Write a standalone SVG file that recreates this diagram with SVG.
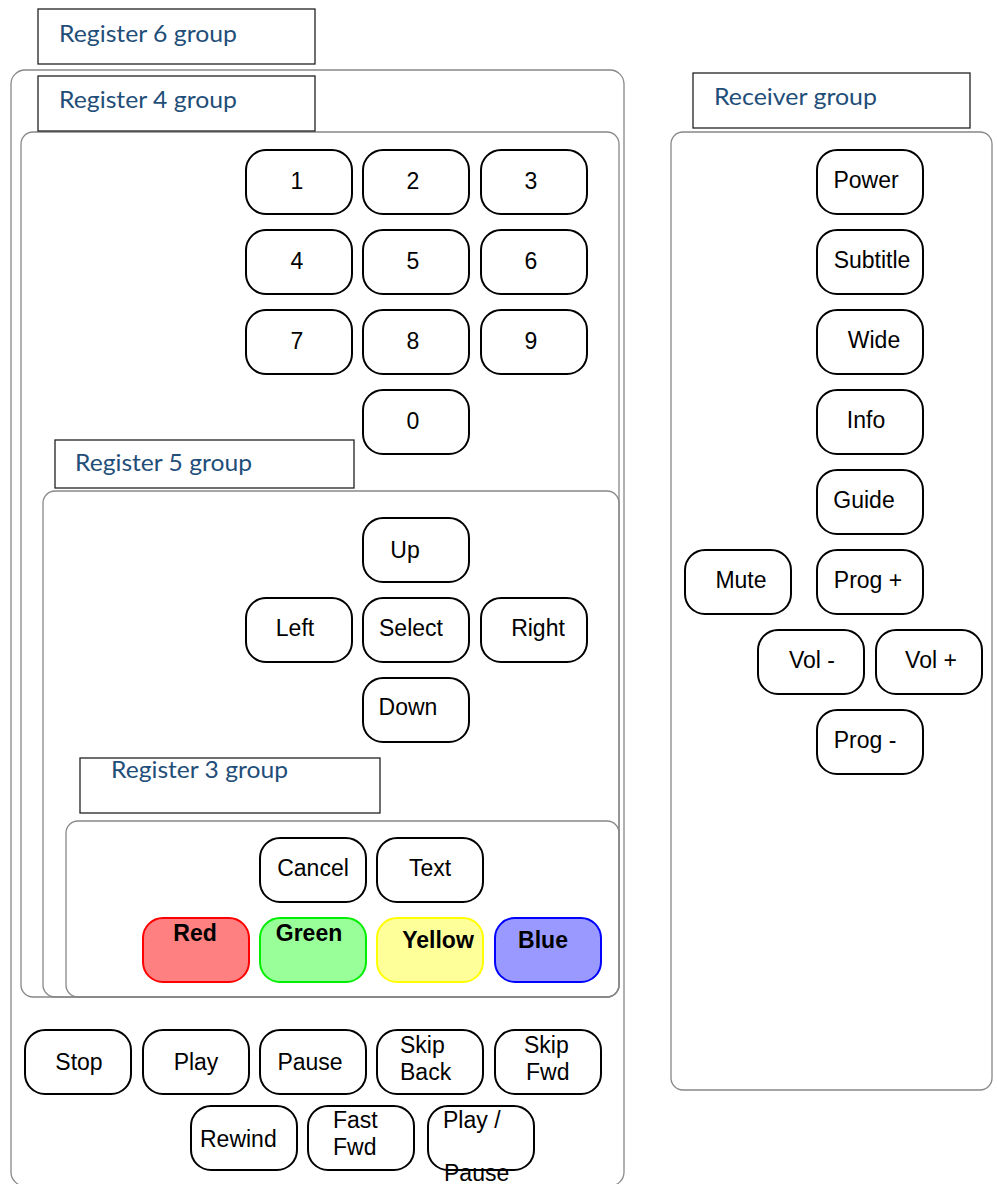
<svg xmlns="http://www.w3.org/2000/svg" width="997" height="1184" viewBox="0 0 997 1184">
<style>
.cont{fill:none;stroke:#888888;stroke-width:1.3}
.lbl{fill:#ffffff;stroke:#222222;stroke-width:1.3}
.lt{font-family:Lato,"Open Sans",sans-serif;font-size:24px;fill:#1f4e79}
.btn{fill:#ffffff;stroke:#000000;stroke-width:2}
.bt{font-family:"Liberation Sans",Arial,sans-serif;font-size:23px;fill:#000000}
.m{text-anchor:middle}
.bold{font-weight:bold}
</style>
<rect width="997" height="1184" fill="#ffffff"/>
<g id="connectors"></g>

<g id="register6-group">
<rect class="cont" x="11" y="70" width="613" height="1116" rx="14"/>
<rect class="lbl" x="38" y="9" width="277" height="55"/>
<text class="lt" x="59" y="42" textLength="178" lengthAdjust="spacingAndGlyphs">Register 6 group</text>
</g>

<g id="register4-group">
<rect class="cont" x="21" y="132" width="598" height="865" rx="12"/>
<rect class="lbl" x="38" y="76" width="277" height="55"/>
<text class="lt" x="59" y="108" textLength="178" lengthAdjust="spacingAndGlyphs">Register 4 group</text>
</g>

<g id="register5-group">
<rect class="cont" x="43" y="491" width="576" height="506" rx="12"/>
<rect class="lbl" x="55" y="440" width="299" height="48"/>
<text class="lt" x="75" y="471" textLength="177" lengthAdjust="spacingAndGlyphs">Register 5 group</text>
</g>

<g id="register3-group">
<rect class="cont" x="66" y="821" width="553" height="176" rx="12"/>
<rect class="lbl" x="80" y="758" width="300" height="55"/>
<text class="lt" x="111" y="778" textLength="177" lengthAdjust="spacingAndGlyphs">Register 3 group</text>
</g>

<g id="receiver-group">
<rect class="cont" x="671" y="132" width="321" height="958" rx="12"/>
<rect class="lbl" x="693" y="73" width="277" height="55"/>
<text class="lt" x="714" y="105" textLength="163" lengthAdjust="spacingAndGlyphs">Receiver group</text>
</g>

<!-- digits -->
<g id="btn-1"><rect class="btn" x="246" y="150" width="106" height="64" rx="20"/><text class="bt m" x="297" y="189">1</text></g>
<g id="btn-2"><rect class="btn" x="363" y="150" width="106" height="64" rx="20"/><text class="bt m" x="413" y="189">2</text></g>
<g id="btn-3"><rect class="btn" x="481" y="150" width="106" height="64" rx="20"/><text class="bt m" x="531" y="189">3</text></g>
<g id="btn-4"><rect class="btn" x="246" y="230" width="106" height="64" rx="20"/><text class="bt m" x="297" y="269">4</text></g>
<g id="btn-5"><rect class="btn" x="363" y="230" width="106" height="64" rx="20"/><text class="bt m" x="413" y="269">5</text></g>
<g id="btn-6"><rect class="btn" x="481" y="230" width="106" height="64" rx="20"/><text class="bt m" x="531" y="269">6</text></g>
<g id="btn-7"><rect class="btn" x="246" y="310" width="106" height="64" rx="20"/><text class="bt m" x="297" y="349">7</text></g>
<g id="btn-8"><rect class="btn" x="363" y="310" width="106" height="64" rx="20"/><text class="bt m" x="413" y="349">8</text></g>
<g id="btn-9"><rect class="btn" x="481" y="310" width="106" height="64" rx="20"/><text class="bt m" x="531" y="349">9</text></g>
<g id="btn-0"><rect class="btn" x="363" y="390" width="106" height="64" rx="20"/><text class="bt m" x="413" y="429">0</text></g>

<!-- navigation -->
<g id="btn-up"><rect class="btn" x="363" y="518" width="106" height="64" rx="20"/><text class="bt m" x="405" y="558">Up</text></g>
<g id="btn-left"><rect class="btn" x="246" y="598" width="106" height="64" rx="20"/><text class="bt m" x="295" y="636">Left</text></g>
<g id="btn-select"><rect class="btn" x="363" y="598" width="106" height="64" rx="20"/><text class="bt m" x="411" y="636">Select</text></g>
<g id="btn-right"><rect class="btn" x="481" y="598" width="106" height="64" rx="20"/><text class="bt m" x="538" y="636">Right</text></g>
<g id="btn-down"><rect class="btn" x="363" y="678" width="106" height="64" rx="20"/><text class="bt m" x="408" y="715">Down</text></g>

<!-- register 3 -->
<g id="btn-cancel"><rect class="btn" x="260" y="838" width="106" height="64" rx="20"/><text class="bt m" x="313" y="876">Cancel</text></g>
<g id="btn-text"><rect class="btn" x="377" y="838" width="106" height="64" rx="20"/><text class="bt m" x="430" y="876">Text</text></g>
<g id="btn-red"><rect x="143" y="918" width="106" height="64" rx="20" fill="#ff8080" stroke="#ff0000" stroke-width="2"/><text class="bt m bold" x="195" y="941">Red</text></g>
<g id="btn-green"><rect x="260" y="918" width="106" height="64" rx="20" fill="#99ff99" stroke="#00ee00" stroke-width="2"/><text class="bt m bold" x="309" y="941">Green</text></g>
<g id="btn-yellow"><rect x="377" y="918" width="106" height="64" rx="20" fill="#ffff99" stroke="#ffff00" stroke-width="2"/><text class="bt m bold" x="438" y="948">Yellow</text></g>
<g id="btn-blue"><rect x="495" y="918" width="106" height="64" rx="20" fill="#9999ff" stroke="#0000ff" stroke-width="2"/><text class="bt m bold" x="543" y="948">Blue</text></g>

<!-- transport -->
<g id="btn-stop"><rect class="btn" x="25" y="1030" width="106" height="64" rx="20"/><text class="bt m" x="79" y="1070">Stop</text></g>
<g id="btn-play"><rect class="btn" x="143" y="1030" width="106" height="64" rx="20"/><text class="bt m" x="196" y="1070">Play</text></g>
<g id="btn-pause"><rect class="btn" x="260" y="1030" width="106" height="64" rx="20"/><text class="bt m" x="310" y="1070">Pause</text></g>
<g id="btn-skipback"><rect class="btn" x="377" y="1030" width="106" height="64" rx="20"/><text class="bt" x="400" y="1053">Skip</text><text class="bt" x="400" y="1080">Back</text></g>
<g id="btn-skipfwd"><rect class="btn" x="495" y="1030" width="106" height="64" rx="20"/><text class="bt" x="524" y="1053">Skip</text><text class="bt" x="526" y="1080">Fwd</text></g>
<g id="btn-rewind"><rect class="btn" x="191" y="1106" width="106" height="64" rx="20"/><text class="bt" x="200" y="1147">Rewind</text></g>
<g id="btn-fastfwd"><rect class="btn" x="308" y="1106" width="106" height="64" rx="20"/><text class="bt" x="333" y="1128">Fast</text><text class="bt" x="333" y="1155">Fwd</text></g>
<g id="btn-playpause"><rect class="btn" x="428" y="1106" width="106" height="64" rx="20"/><text class="bt" x="443" y="1128">Play /</text><text class="bt" x="444" y="1181">Pause</text></g>

<!-- receiver -->
<g id="btn-power"><rect class="btn" x="817" y="150" width="106" height="64" rx="20"/><text class="bt m" x="866" y="188">Power</text></g>
<g id="btn-subtitle"><rect class="btn" x="817" y="230" width="106" height="64" rx="20"/><text class="bt m" x="872" y="268">Subtitle</text></g>
<g id="btn-wide"><rect class="btn" x="817" y="310" width="106" height="64" rx="20"/><text class="bt m" x="874" y="348">Wide</text></g>
<g id="btn-info"><rect class="btn" x="817" y="390" width="106" height="64" rx="20"/><text class="bt m" x="866" y="428">Info</text></g>
<g id="btn-guide"><rect class="btn" x="817" y="470" width="106" height="64" rx="20"/><text class="bt m" x="864" y="508">Guide</text></g>
<g id="btn-mute"><rect class="btn" x="685" y="550" width="106" height="64" rx="20"/><text class="bt m" x="741" y="588">Mute</text></g>
<g id="btn-progplus"><rect class="btn" x="817" y="550" width="106" height="64" rx="20"/><text class="bt m" x="868" y="588">Prog +</text></g>
<g id="btn-volminus"><rect class="btn" x="758" y="630" width="106" height="64" rx="20"/><text class="bt m" x="812" y="668">Vol -</text></g>
<g id="btn-volplus"><rect class="btn" x="876" y="630" width="106" height="64" rx="20"/><text class="bt m" x="931" y="668">Vol +</text></g>
<g id="btn-progminus"><rect class="btn" x="817" y="710" width="106" height="64" rx="20"/><text class="bt m" x="865" y="748">Prog -</text></g>
</svg>
